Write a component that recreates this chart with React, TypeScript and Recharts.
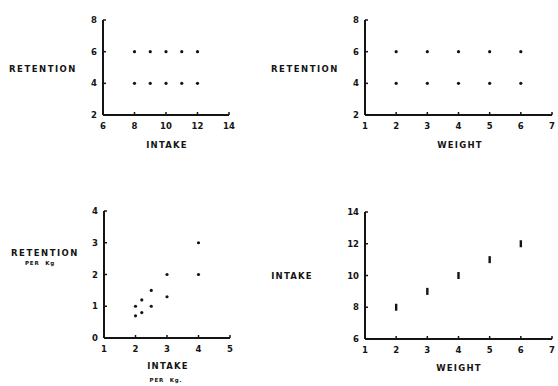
import { ScatterChart, Scatter, XAxis, YAxis } from 'recharts';

// values
const intakeVals = [8, 9, 10, 11, 12];
const weightVals = [2, 3, 4, 5, 6];
const retentionLow = [4, 4, 4, 4, 4];
const retentionHigh = [6, 6, 6, 6, 6];
const intakePerKg = [2, 2, 2.2, 2.2, 2.5, 2.5, 3, 3, 4, 4];
const retentionPerKg = [0.7, 1, 0.8, 1.2, 1, 1.5, 1.3, 2, 2, 3];

const intakeTicks = [6, 8, 10, 12, 14];
const retentionTicks = [2, 4, 6, 8];
const weightTicks = [1, 2, 3, 4, 5, 6, 7];
const perKgXTicks = [1, 2, 3, 4, 5];
const perKgYTicks = [0, 1, 2, 3, 4];

const INK = '#141414';
const FONT = '"DejaVu Sans", sans-serif';

const retByIntake = intakeVals.flatMap((x, i) => [
  { x, y: retentionLow[i] },
  { x, y: retentionHigh[i] },
]);
const retByWeight = weightVals.flatMap((x, i) => [
  { x, y: retentionLow[i] },
  { x, y: retentionHigh[i] },
]);
const retPerKg = intakePerKg.map((x, i) => ({ x, y: retentionPerKg[i] }));
const intakeByWeight = weightVals.map((x, i) => ({ x, y: intakeVals[i] }));

const tickStyle = { fontFamily: FONT, fontSize: 8.5, fontWeight: 700, fill: INK };

function YTick({ x, y, payload }: any) {
  return (
    <g>
      <line x1={x} y1={y} x2={x + 3} y2={y} stroke={INK} strokeWidth={1.5} />
      <text x={x - 6} y={y + 3} textAnchor="end" style={tickStyle}>
        {payload.value}
      </text>
    </g>
  );
}

function XTick({ x, y, payload }: any) {
  return (
    <g>
      <line x1={x} y1={y} x2={x} y2={y - 3} stroke={INK} strokeWidth={1.5} />
      <text x={x} y={y + 14} textAnchor="middle" style={tickStyle}>
        {payload.value}
      </text>
    </g>
  );
}

const Dot = (p: any) => <circle cx={p.cx} cy={p.cy} r={1.6} fill={INK} />;
const Bar = (p: any) => (
  <rect x={p.cx - 1.2} y={p.cy - 3.5} width={2.4} height={7} fill={INK} />
);

interface PanelProps {
  left: number;
  top: number;
  margin: { top: number; right: number; bottom: number; left: number };
  data: { x: number; y: number }[];
  xDomain: [number, number];
  yDomain: [number, number];
  xTicks: number[];
  yTicks: number[];
  shape: any;
}

function Panel({ left, top, margin, data, xDomain, yDomain, xTicks, yTicks, shape }: PanelProps) {
  const axisLine = { stroke: INK, strokeWidth: 2 };
  return (
    <div style={{ position: 'absolute', left, top }}>
      <ScatterChart width={279} height={193} margin={margin}>
        <XAxis
          type="number"
          dataKey="x"
          domain={xDomain}
          ticks={xTicks}
          allowDataOverflow
          height={30}
          axisLine={axisLine}
          tickLine={false}
          tickSize={0}
          tickMargin={0}
          tick={XTick}
          interval={0}
        />
        <YAxis
          type="number"
          dataKey="y"
          domain={yDomain}
          ticks={yTicks}
          allowDataOverflow
          width={20}
          axisLine={axisLine}
          tickLine={false}
          tickSize={0}
          tickMargin={0}
          tick={YTick}
          interval={0}
        />
        <Scatter data={data} shape={shape} isAnimationActive={false} />
      </ScatterChart>
    </div>
  );
}

function Title({ x, y, text, size = 8.5, spacing = 1.2 }: { x: number; y: number; text: string; size?: number; spacing?: number }) {
  return (
    <div
      style={{
        position: 'absolute',
        left: x,
        top: y,
        transform: 'translate(-50%, -50%)',
        fontFamily: FONT,
        fontWeight: 700,
        fontSize: size,
        letterSpacing: spacing,
        wordSpacing: 3,
        color: INK,
        whiteSpace: 'pre',
        lineHeight: 1,
      }}
    >
      {text}
    </div>
  );
}

export default function App() {
  return (
    <div style={{ position: 'absolute', left: 0, top: 0, width: 558, height: 386, background: '#fff' }}>
      <Panel
        left={0}
        top={0}
        margin={{ top: 20, right: 50, bottom: 48, left: 83 }}
        data={retByIntake}
        xDomain={[6, 14]}
        yDomain={[2, 8]}
        xTicks={intakeTicks}
        yTicks={retentionTicks}
        shape={Dot}
      />
      <Panel
        left={279}
        top={0}
        margin={{ top: 20, right: 6, bottom: 48, left: 66 }}
        data={retByWeight}
        xDomain={[1, 7]}
        yDomain={[2, 8]}
        xTicks={weightTicks}
        yTicks={retentionTicks}
        shape={Dot}
      />
      <Panel
        left={0}
        top={193}
        margin={{ top: 18, right: 49, bottom: 18, left: 84 }}
        data={retPerKg}
        xDomain={[1, 5]}
        yDomain={[0, 4]}
        xTicks={perKgXTicks}
        yTicks={perKgYTicks}
        shape={Dot}
      />
      <Panel
        left={279}
        top={193}
        margin={{ top: 19, right: 6, bottom: 17, left: 66 }}
        data={intakeByWeight}
        xDomain={[1, 7]}
        yDomain={[6, 14]}
        xTicks={weightTicks}
        yTicks={intakeTicks}
        shape={Bar}
      />

      <Title x={43} y={69} text="RETENTION" spacing={1.5} />
      <Title x={167} y={145} text="INTAKE" />
      <Title x={305} y={69} text="RETENTION" spacing={1.5} />
      <Title x={460} y={145} text="WEIGHT" />

      <Title x={45} y={253} text="RETENTION" spacing={1.5} />
      <Title x={40} y={264} text="PER Kg" size={5.5} spacing={0.8} />
      <Title x={168} y={366} text="INTAKE" />
      <Title x={166} y={381} text="PER Kg." size={5.5} spacing={0.8} />
      <Title x={292} y={276} text="INTAKE" />
      <Title x={459} y={368} text="WEIGHT" />
    </div>
  );
}
